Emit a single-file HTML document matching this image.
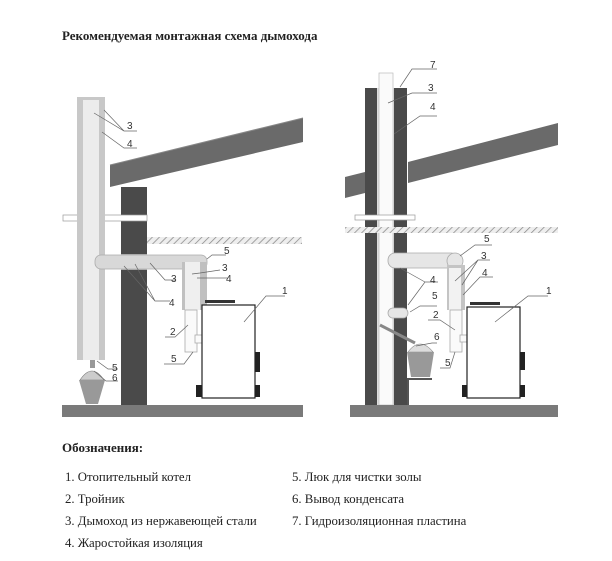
<!DOCTYPE html>
<html><head><meta charset="utf-8"><style>
body{margin:0;background:#fff;}
svg{display:block;}
text{font-family:"Liberation Serif","Noto Serif CJK SC",serif;fill:#222;}
.n{font-family:"Liberation Sans",sans-serif;font-size:10px;fill:#333;}
.l{stroke:#666;stroke-width:0.7;fill:none;}
</style></head><body>
<svg width="612" height="561" viewBox="0 0 612 561" xmlns="http://www.w3.org/2000/svg">
<defs>
<pattern id="h" width="5" height="5" patternUnits="userSpaceOnUse" patternTransform="rotate(45)">
<rect width="5" height="5" fill="#eee"/><line x1="0" y1="0" x2="0" y2="5" stroke="#888" stroke-width="1.5"/></pattern>
</defs>
<text x="62" y="40" font-size="13" font-weight="bold">Рекомендуемая монтажная схема дымохода</text>

<!-- LEFT DIAGRAM -->
<polygon points="110,165 303,118 303,142 110,187" fill="#6a6a6a"/>
<line x1="110" y1="165" x2="303" y2="118" stroke="#888" stroke-width="1"/>
<rect x="121" y="187" width="26" height="218" fill="#4a4a4a"/>
<rect x="121" y="215" width="26" height="6" fill="#fff"/>
<rect x="63" y="215" width="84" height="6" fill="#fff" stroke="#999" stroke-width="0.7"/>
<rect x="147" y="237" width="155" height="7" fill="url(#h)"/>
<rect x="77" y="97" width="28" height="263" fill="#c8c8c8"/>
<rect x="83" y="100" width="16" height="260" fill="#ececec"/>
<rect x="121" y="254" width="26" height="16" fill="#aaa"/>
<rect x="95" y="255" width="112" height="14" rx="6" fill="#d8d8d8" stroke="#aaa" stroke-width="0.8"/>
<rect x="182" y="262" width="25" height="48" fill="#c0c0c0"/>
<rect x="185" y="262" width="15" height="48" fill="#efefef"/>
<rect x="185" y="310" width="12" height="42" fill="#fafafa" stroke="#aaa" stroke-width="0.8"/>
<rect x="195" y="335" width="9" height="8" fill="#fafafa" stroke="#aaa" stroke-width="0.8"/>
<rect x="205" y="300" width="30" height="3" fill="#333"/>
<rect x="202" y="305" width="53" height="93" fill="#fff" stroke="#222" stroke-width="1.2"/>
<rect x="255" y="352" width="5" height="20" fill="#222"/>
<rect x="196" y="385" width="6" height="12" fill="#222"/><rect x="255" y="385" width="5" height="12" fill="#222"/>
<rect x="90" y="360" width="5" height="8" fill="#999"/>
<path d="M80,380 Q92,362 104,380 Z" fill="#ccc" stroke="#777" stroke-width="0.6"/>
<polygon points="79,380 105,380 98,404 86,404" fill="#999"/>
<rect x="62" y="405" width="241" height="12" fill="#7a7a7a"/>
<!-- labels left -->
<path class="l" d="M94,113 L124,131 L137,131 M104,110 L124,131"/>
<path class="l" d="M102,132 L124,148 L137,148"/>
<text class="n" x="127" y="129">3</text><text class="n" x="127" y="147">4</text>
<path class="l" d="M207,259 L212,255 L226,255"/><text class="n" x="224" y="254">5</text>
<path class="l" d="M192,274 L200,273 L220,270"/><text class="n" x="222" y="271">3</text>
<path class="l" d="M197,278 L215,278 L228,278"/><text class="n" x="226" y="282">4</text>
<path class="l" d="M150,263 L165,280 L175,280"/><text class="n" x="171" y="282">3</text>
<path class="l" d="M124,266 L155,301 L170,301 M135,264 L155,301"/><text class="n" x="169" y="306">4</text>
<path class="l" d="M188,325 L175,337 L165,337"/><text class="n" x="170" y="335">2</text>
<path class="l" d="M193,352 L184,364 L164,364"/><text class="n" x="171" y="362">5</text>
<path class="l" d="M244,322 L266,296 L285,296"/><text class="n" x="282" y="294">1</text>
<path class="l" d="M97,361 L108,369 L118,369"/><text class="n" x="112" y="371">5</text>
<path class="l" d="M94,371 L106,381 L118,381"/><text class="n" x="112" y="381">6</text>

<!-- RIGHT DIAGRAM -->
<polygon points="345,177 365,172 365,193 345,198" fill="#6a6a6a"/>
<polygon points="408,162 558,123 558,145 408,183" fill="#6a6a6a"/>
<rect x="365" y="88" width="12" height="317" fill="#4a4a4a"/>
<rect x="394" y="88" width="13" height="317" fill="#4a4a4a"/>
<rect x="377" y="88" width="17" height="317" fill="#ddd"/>
<rect x="379" y="73" width="14" height="332" fill="#fafafa" stroke="#bbb" stroke-width="0.7"/>
<rect x="355" y="215" width="60" height="5" fill="#fff" stroke="#999" stroke-width="0.7"/>
<rect x="345" y="227" width="213" height="6" fill="url(#h)"/>
<rect x="388" y="253" width="70" height="15" rx="7" fill="#e6e6e6" stroke="#aaa" stroke-width="0.8"/>
<circle cx="455" cy="261" r="8" fill="#e6e6e6" stroke="#aaa" stroke-width="0.8"/>
<rect x="447" y="265" width="18" height="45" fill="#c4c4c4"/>
<rect x="449" y="268" width="12" height="42" fill="#f2f2f2"/>
<rect x="450" y="310" width="12" height="42" fill="#fafafa" stroke="#aaa" stroke-width="0.8"/>
<rect x="460" y="335" width="8" height="7" fill="#fafafa" stroke="#aaa" stroke-width="0.8"/>
<rect x="388" y="308" width="20" height="10" rx="5" fill="#e6e6e6" stroke="#aaa" stroke-width="0.8"/>
<line x1="380" y1="325" x2="415" y2="343" stroke="#888" stroke-width="3"/>
<path d="M408,352 Q420,336 433,352 Z" fill="#ddd" stroke="#888" stroke-width="0.6"/>
<polygon points="407,352 434,352 430,377 411,377" fill="#999"/>
<rect x="407" y="378" width="25" height="2" fill="#555"/>
<rect x="407" y="378" width="2" height="27" fill="#555"/>
<rect x="470" y="302" width="30" height="3" fill="#333"/>
<rect x="467" y="307" width="53" height="91" fill="#fff" stroke="#222" stroke-width="1.2"/>
<rect x="520" y="352" width="5" height="18" fill="#222"/>
<rect x="462" y="385" width="5" height="12" fill="#222"/><rect x="520" y="385" width="5" height="12" fill="#222"/>
<rect x="350" y="405" width="208" height="12" fill="#7a7a7a"/>
<!-- labels right -->
<path class="l" d="M400,87 L412,69 L437,69"/><text class="n" x="430" y="68">7</text>
<path class="l" d="M388,103 L412,93 L437,93"/><text class="n" x="428" y="91">3</text>
<path class="l" d="M394,134 L420,116 L437,116"/><text class="n" x="430" y="110">4</text>
<path class="l" d="M460,256 L475,245 L492,245"/><text class="n" x="484" y="242">5</text>
<path class="l" d="M455,281 L478,260 L490,260 M462,285 L478,260"/><text class="n" x="481" y="259">3</text>
<path class="l" d="M463,295 L480,277 L493,277"/><text class="n" x="482" y="276">4</text>
<path class="l" d="M400,268 L425,282 M408,305 L425,282 L438,282"/><text class="n" x="430" y="283">4</text>
<path class="l" d="M410,312 L420,306 L437,306"/><text class="n" x="432" y="299">5</text>
<path class="l" d="M455,330 L440,320 L428,320"/><text class="n" x="433" y="318">2</text>
<path class="l" d="M416,346 L432,343 L437,343"/><text class="n" x="434" y="340">6</text>
<path class="l" d="M455,352 L450,368 L440,368"/><text class="n" x="445" y="366">5</text>
<path class="l" d="M495,322 L528,296 L548,296"/><text class="n" x="546" y="294">1</text>

<!-- legend -->
<text x="62" y="452" font-size="13" font-weight="bold">Обозначения:</text>
<g font-size="12.8">
<text x="65" y="481">1. Отопительный котел</text>
<text x="65" y="503">2. Тройник</text>
<text x="65" y="525">3. Дымоход из нержавеющей стали</text>
<text x="65" y="547">4. Жаростойкая изоляция</text>
<text x="292" y="481">5. Люк для чистки золы</text>
<text x="292" y="503">6. Вывод конденсата</text>
<text x="292" y="525">7. Гидроизоляционная пластина</text>
</g>
</svg>
</body></html>
